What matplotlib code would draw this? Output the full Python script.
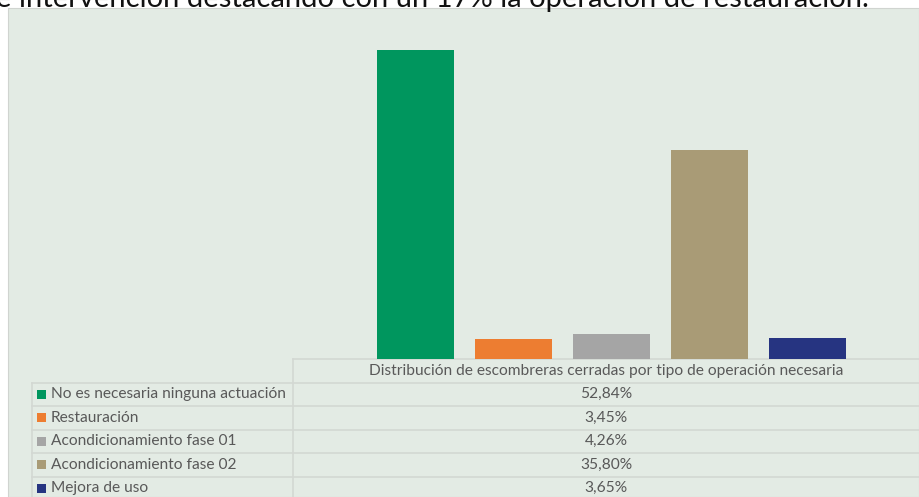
import numpy as np
import matplotlib
from matplotlib import pyplot as plt
from matplotlib.patches import Rectangle

plt.rcParams['font.family'] = ['Lato', 'DejaVu Sans']

# data
series = ['No es necesaria ninguna actuación', 'Restauración',
          'Acondicionamiento fase 01', 'Acondicionamiento fase 02', 'Mejora de uso']
values = [52.84, 3.45, 4.26, 35.80, 3.65]
labels = ['52,84%', '3,45%', '4,26%', '35,80%', '3,65%']
colors = ['#00965e', '#ed7d31', '#a5a5a5', '#a99b76', '#263481']
category = 'Distribución de escombreras cerradas por tipo de operación necesaria'
caption = 'e intervención destacando con un 17% la operación de restauración.'

W, H = 919, 497
bg = '#e3ebe4'
grid = '#d3d8d3'
txt = '#595959'

fig = plt.figure(figsize=(W / 100, H / 100), dpi=100)
fig.patch.set_facecolor('white')


def fx(px):
    return px / W


def fy(py):
    return 1 - py / H


# chart area background
fig.patches.append(Rectangle((fx(8), 0), 1 - fx(8), fy(8), transform=fig.transFigure,
                             facecolor=bg, edgecolor='#d0d4d0', lw=0.8, zorder=-5))

# text from the surrounding document, cut at the top
fig.text(fx(-4), fy(7), caption, fontsize=21, color='#111111',
         va='baseline', ha='left')

# plot area
x0, x1, ytop, ybase = 293, 919, 8, 359
ax = fig.add_axes([fx(x0), fy(ybase), fx(x1) - fx(x0), fy(ytop) - fy(ybase)])
ax.set_zorder(2)
ax.set_facecolor('none')
spacing = 98
center = 611.5
pos = np.arange(len(values)) - 2
ax.bar(pos, values, width=77 / spacing, color=colors, zorder=3)
ax.set_xlim(-(center - x0) / spacing, (x1 - center) / spacing)
ax.set_ylim(0, 60)
ax.axis('off')

# data table
row_h = 23.5
lab_x0 = 32
fs = 11.2
lines = dict(color=grid, lw=1.2, transform=fig.transFigure)
fig.add_artist(plt.Line2D([fx(x0), 1], [fy(ybase), fy(ybase)], **lines))
fig.add_artist(plt.Line2D([fx(x0), fx(x0)], [fy(ybase), 0], **lines))
fig.add_artist(plt.Line2D([fx(lab_x0), fx(lab_x0)], [fy(ybase + row_h), 0], **lines))
for i in range(len(values)):
    yl = ybase + row_h * (i + 1)
    fig.add_artist(plt.Line2D([fx(lab_x0), 1], [fy(yl), fy(yl)], **lines))

fig.text(fx((x0 + x1) / 2), fy(ybase + row_h / 2), category, fontsize=fs,
         color=txt, ha='center', va='center')
for i, (name, lab, c) in enumerate(zip(series, labels, colors)):
    yc = ybase + row_h * (i + 1.5)
    fig.patches.append(Rectangle((fx(37), fy(yc + 4.5)), fx(9), 9 / H,
                                 transform=fig.transFigure, facecolor=c, zorder=2))
    fig.text(fx(51), fy(yc), name, fontsize=fs, color=txt, ha='left', va='center')
    fig.text(fx((x0 + x1) / 2), fy(yc), lab, fontsize=fs, color=txt,
             ha='center', va='center')

fig.savefig('out.png', dpi=100)
